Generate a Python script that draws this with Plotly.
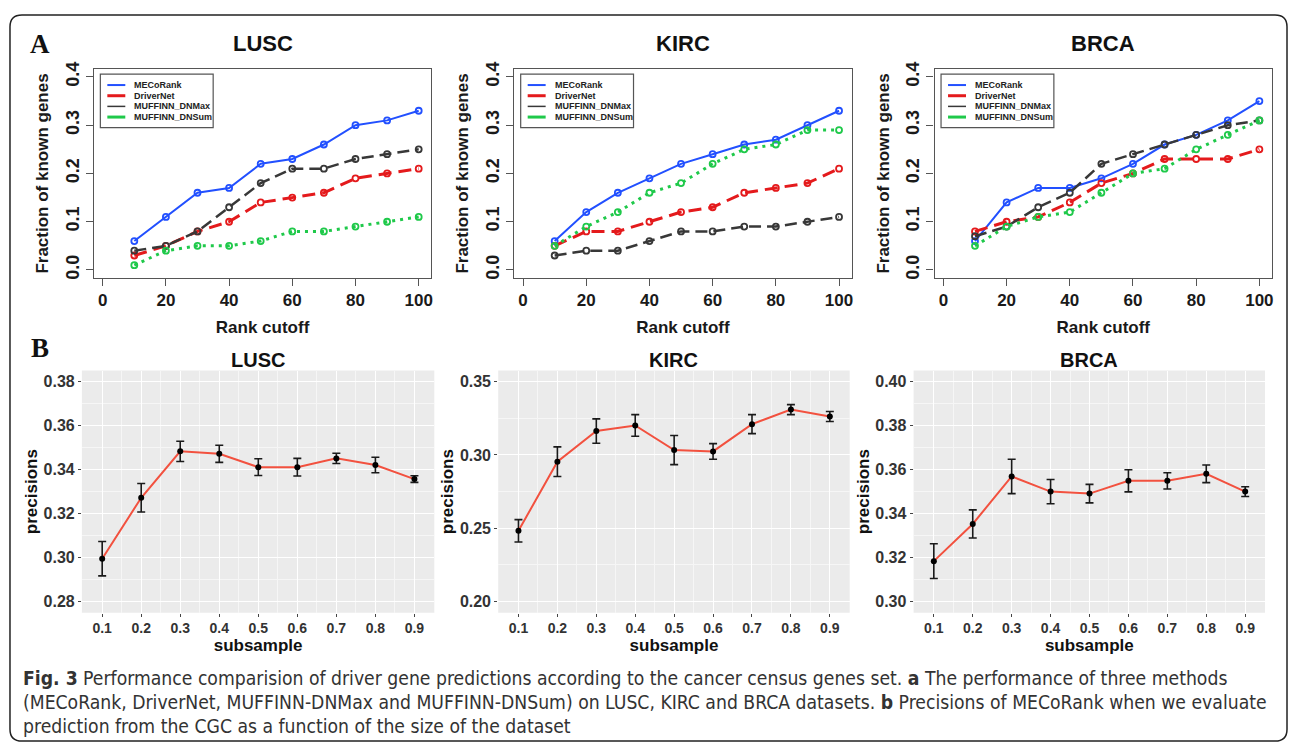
import plotly.graph_objects as go

W, H = 1292, 749

# ---------------- data ----------------
rank_cutoff = [10, 20, 30, 40, 50, 60, 70, 80, 90, 100]
methods = ["MECoRank", "DriverNet", "MUFFINN_DNMax", "MUFFINN_DNSum"]
datasets = ["LUSC", "KIRC", "BRCA"]

lusc_mecorank = [0.06, 0.11, 0.16, 0.17, 0.22, 0.23, 0.26, 0.30, 0.31, 0.33]
lusc_drivernet = [0.03, 0.05, 0.08, 0.10, 0.14, 0.15, 0.16, 0.19, 0.20, 0.21]
lusc_dnmax = [0.04, 0.05, 0.08, 0.13, 0.18, 0.21, 0.21, 0.23, 0.24, 0.25]
lusc_dnsum = [0.01, 0.04, 0.05, 0.05, 0.06, 0.08, 0.08, 0.09, 0.10, 0.11]

kirc_mecorank = [0.06, 0.12, 0.16, 0.19, 0.22, 0.24, 0.26, 0.27, 0.30, 0.33]
kirc_drivernet = [0.05, 0.08, 0.08, 0.10, 0.12, 0.13, 0.16, 0.17, 0.18, 0.21]
kirc_dnmax = [0.03, 0.04, 0.04, 0.06, 0.08, 0.08, 0.09, 0.09, 0.10, 0.11]
kirc_dnsum = [0.05, 0.09, 0.12, 0.16, 0.18, 0.22, 0.25, 0.26, 0.29, 0.29]

brca_mecorank = [0.06, 0.14, 0.17, 0.17, 0.19, 0.22, 0.26, 0.28, 0.31, 0.35]
brca_drivernet = [0.08, 0.10, 0.11, 0.14, 0.18, 0.20, 0.23, 0.23, 0.23, 0.25]
brca_dnmax = [0.07, 0.09, 0.13, 0.16, 0.22, 0.24, 0.26, 0.28, 0.30, 0.31]
brca_dnsum = [0.05, 0.09, 0.11, 0.12, 0.16, 0.20, 0.21, 0.25, 0.28, 0.31]

subsample = [0.1, 0.2, 0.3, 0.4, 0.5, 0.6, 0.7, 0.8, 0.9]
lusc_precision = [0.2995, 0.3272, 0.3483, 0.3472, 0.3411, 0.3411, 0.3451, 0.3421, 0.3357]
lusc_err = [0.0078, 0.0065, 0.0046, 0.0039, 0.0038, 0.0040, 0.0023, 0.0035, 0.0015]
kirc_precision = [0.2483, 0.2954, 0.3163, 0.3201, 0.3033, 0.3024, 0.3210, 0.3309, 0.3262]
kirc_err = [0.0076, 0.0101, 0.0083, 0.0074, 0.0099, 0.0053, 0.0065, 0.0034, 0.0034]
brca_precision = [0.3184, 0.3353, 0.3569, 0.3500, 0.3491, 0.3549, 0.3549, 0.3581, 0.3500]
brca_err = [0.0079, 0.0064, 0.0078, 0.0055, 0.0042, 0.0050, 0.0037, 0.0040, 0.0022]

caption_lines = [
    "<b>Fig. 3</b> Performance comparision of driver gene predictions according to the cancer census genes set. <b>a</b> The performance of three methods",
    "(MECoRank, DriverNet, MUFFINN-DNMax and MUFFINN-DNSum) on LUSC, KIRC and BRCA datasets. <b>b</b> Precisions of MECoRank when we evaluate",
    "prediction from the CGC as a function of the size of the dataset",
]

# ---------------- styles ----------------
top_series = {
    "LUSC": [lusc_mecorank, lusc_drivernet, lusc_dnmax, lusc_dnsum],
    "KIRC": [kirc_mecorank, kirc_drivernet, kirc_dnmax, kirc_dnsum],
    "BRCA": [brca_mecorank, brca_drivernet, brca_dnmax, brca_dnsum],
}
bottom_series = {
    "LUSC": (lusc_precision, lusc_err),
    "KIRC": (kirc_precision, kirc_err),
    "BRCA": (brca_precision, brca_err),
}
colors = ["#2250ff", "#e41a1c", "#383838", "#1fc94a"]
widths = [2, 3, 2.5, 3]
dashes = ["solid", "13px,7px", "12px,6px", "3px,5px"]
leg_widths = [2, 3, 1.5, 3]

FONT = "Liberation Sans, Arial, sans-serif"

def px(x):
    return x / W

def py(y):
    return 1 - y / H

def xd(a, b):
    return [px(a), px(b)]

def yd(top, bottom):
    return [py(bottom), py(top)]

top_x = {"LUSC": (94, 432), "KIRC": (515, 853), "BRCA": (936, 1274)}
top_y = (63, 274)
bot_x = {"LUSC": (82, 435), "KIRC": (499, 851), "BRCA": (915, 1267)}
bot_y = (368, 613)
bot_yrange = {"LUSC": [0.275, 0.385], "KIRC": [0.1925, 0.3575], "BRCA": [0.295, 0.405]}
bot_ystep = {"LUSC": 0.02, "KIRC": 0.05, "BRCA": 0.02}

fig = go.Figure()
layout = {}
annotations = []
shapes = []

# ---------------- top row (A) ----------------
for i, ds in enumerate(datasets):
    n = 2 * i + 1
    xa = "x" if n == 1 else f"x{n}"
    ya = "y" if n == 1 else f"y{n}"
    for j, m in enumerate(methods):
        fig.add_trace(go.Scatter(
            x=rank_cutoff, y=top_series[ds][j], mode="lines+markers", name=m,
            line=dict(color=colors[j], width=widths[j], dash=dashes[j]),
            marker=dict(symbol="circle-open", size=6, color=colors[j], line=dict(width=1.8, color=colors[j])),
            xaxis=xa, yaxis=ya, showlegend=False,
        ))
    x0, x1 = top_x[ds]
    layout["xaxis" if n == 1 else f"xaxis{n}"] = dict(
        domain=xd(x0, x1), anchor=ya, range=[-2.8, 104], tickvals=[0, 20, 40, 60, 80, 100],
        showline=True, linecolor="#555", linewidth=1.2, mirror=True, ticks="outside", ticklen=7,
        tickcolor="#555", showgrid=False, zeroline=False,
        tickfont=dict(family=FONT, size=17, color="#1a1a1a", weight="bold"),
        title=dict(text="Rank cutoff", font=dict(family=FONT, size=17, color="#1a1a1a", weight="bold"), standoff=11),
    )
    layout["yaxis" if n == 1 else f"yaxis{n}"] = dict(
        domain=yd(*top_y), anchor=xa, range=[-0.016, 0.416], tickvals=[0, 0.1, 0.2, 0.3, 0.4],
        ticktext=["0.0", "0.1", "0.2", "0.3", "0.4"], tickangle=-90,
        showline=True, linecolor="#555", linewidth=1.2, mirror=True, ticks="outside", ticklen=7,
        tickcolor="#555", showgrid=False, zeroline=False,
        tickfont=dict(family=FONT, size=18, color="#1a1a1a", weight="bold"),
        title=dict(text="Fraction of known genes", font=dict(family=FONT, size=17, color="#1a1a1a", weight="bold"), standoff=9),
    )
    # legend box (R-style)
    lx0, ly0 = x0 + 6.5, 68
    lx1, ly1 = lx0 + 113, 122
    shapes.append(dict(type="rect", xref="paper", yref="paper", x0=px(lx0), x1=px(lx1), y0=py(ly1), y1=py(ly0),
                       line=dict(color="#555", width=1.2), fillcolor="white"))
    for j, m in enumerate(methods):
        ey = 79 + 10.8 * j
        shapes.append(dict(type="line", xref="paper", yref="paper", x0=px(lx0 + 7), x1=px(lx0 + 25),
                           y0=py(ey), y1=py(ey), line=dict(color=colors[j], width=leg_widths[j])))
        annotations.append(dict(
            text=m, x=px(lx0 + 32), y=py(ey), xref="paper", yref="paper", showarrow=False,
            xanchor="left", yanchor="middle",
            font=dict(family=FONT, size=9, color="#222", weight="bold"),
        ))
    annotations.append(dict(
        text=ds, x=px((x0 + x1) / 2), y=py(37), xref="paper", yref="paper",
        showarrow=False, font=dict(family=FONT, size=22, color="#111", weight="bold"),
        xanchor="center", yanchor="middle",
    ))

# ---------------- bottom row (B) ----------------
for i, ds in enumerate(datasets):
    n = 2 * i + 2
    xa, ya = f"x{n}", f"y{n}"
    vals, errs = bottom_series[ds]
    fig.add_trace(go.Scatter(
        x=subsample, y=vals, mode="lines+markers", name=ds,
        line=dict(color="#f2513f", width=2),
        marker=dict(color="black", size=6),
        error_y=dict(type="data", array=errs, visible=True, color="#1a1a1a", thickness=1.6, width=4),
        xaxis=xa, yaxis=ya, showlegend=False,
    ))
    x0, x1 = bot_x[ds]
    step = bot_ystep[ds]
    lo, hi = bot_yrange[ds]
    layout[f"xaxis{n}"] = dict(
        domain=xd(x0, x1), anchor=ya, range=[0.048, 0.951], tickvals=subsample,
        ticktext=[f"{v:.1f}" for v in subsample],
        showline=False, ticks="outside", ticklen=3, tickcolor="#444", zeroline=False,
        showgrid=True, gridcolor="white", gridwidth=1.2,
        minor=dict(showgrid=True, gridcolor="#f6f6f6", gridwidth=0.6, dtick=0.05, tick0=0.05),
        tickfont=dict(family=FONT, size=14, color="#333", weight="bold"),
        title=dict(text="subsample", font=dict(family=FONT, size=17, color="#111", weight="bold"), standoff=0),
    )
    layout[f"yaxis{n}"] = dict(
        domain=yd(*bot_y), anchor=xa, range=[lo, hi], dtick=step, tick0=0, tickformat=".2f",
        showline=False, ticks="outside", ticklen=3, tickcolor="#444", zeroline=False,
        showgrid=True, gridcolor="white", gridwidth=1.2,
        minor=dict(showgrid=True, gridcolor="#f6f6f6", gridwidth=0.6, dtick=step / 2, tick0=0),
        tickfont=dict(family=FONT, size=16, color="#333", weight="bold"),
        title=dict(text="precisions", font=dict(family=FONT, size=17, color="#111", weight="bold"), standoff=1),
    )
    shapes.append(dict(type="rect", xref=f"{xa} domain", yref=f"{ya} domain", x0=0, x1=1, y0=0, y1=1,
                       fillcolor="#ebebeb", line=dict(width=0), layer="below"))
    annotations.append(dict(
        text=ds, x=px((x0 + x1) / 2), y=py(357), xref="paper", yref="paper",
        showarrow=False, font=dict(family=FONT, size=20, color="#111", weight="bold"),
        xanchor="center", yanchor="middle",
    ))

# panel letters
for letter, yy in (("A", 37), ("B", 345)):
    annotations.append(dict(
        text=letter, x=px(40), y=py(yy), xref="paper", yref="paper", showarrow=False,
        font=dict(family="Liberation Serif, Times New Roman, serif", size=27, color="#111", weight="bold"),
        xanchor="center", yanchor="middle",
    ))

# caption
for k, line in enumerate(caption_lines):
    annotations.append(dict(
        text=line, x=px(21), y=py(680 + 24 * k), xref="paper", yref="paper", showarrow=False,
        font=dict(family="DejaVu Sans Condensed, Liberation Sans Narrow, sans-serif", size=19.2, color="#333"),
        xanchor="left", yanchor="middle", align="left",
    ))

# outer rounded frame
bx0, by0, bx1, by1, r = 10, 8, 1289, 743, 12
path = (f"M {px(bx0 + r)},{py(by0)} L {px(bx1 - r)},{py(by0)} Q {px(bx1)},{py(by0)} {px(bx1)},{py(by0 + r)} "
        f"L {px(bx1)},{py(by1 - r)} Q {px(bx1)},{py(by1)} {px(bx1 - r)},{py(by1)} "
        f"L {px(bx0 + r)},{py(by1)} Q {px(bx0)},{py(by1)} {px(bx0)},{py(by1 - r)} "
        f"L {px(bx0)},{py(by0 + r)} Q {px(bx0)},{py(by0)} {px(bx0 + r)},{py(by0)} Z")
shapes.append(dict(type="path", xref="paper", yref="paper", path=path, line=dict(color="#222", width=1.5)))

fig.update_layout(
    width=W, height=H, margin=dict(l=0, r=0, t=0, b=0),
    paper_bgcolor="white", plot_bgcolor="white",
    annotations=annotations, shapes=shapes, **layout,
)

# pin the figure to the page origin so that pixel positions match the window
post = (
    "document.body.style.margin='0';document.body.style.overflow='hidden';"
    "var gd=document.getElementsByClassName('plotly-graph-div')[0];"
    "gd.style.position='absolute';gd.style.left='0px';gd.style.top='0px';"
)
fig.write_html("out.html", post_script=post, config={"displayModeBar": False})
